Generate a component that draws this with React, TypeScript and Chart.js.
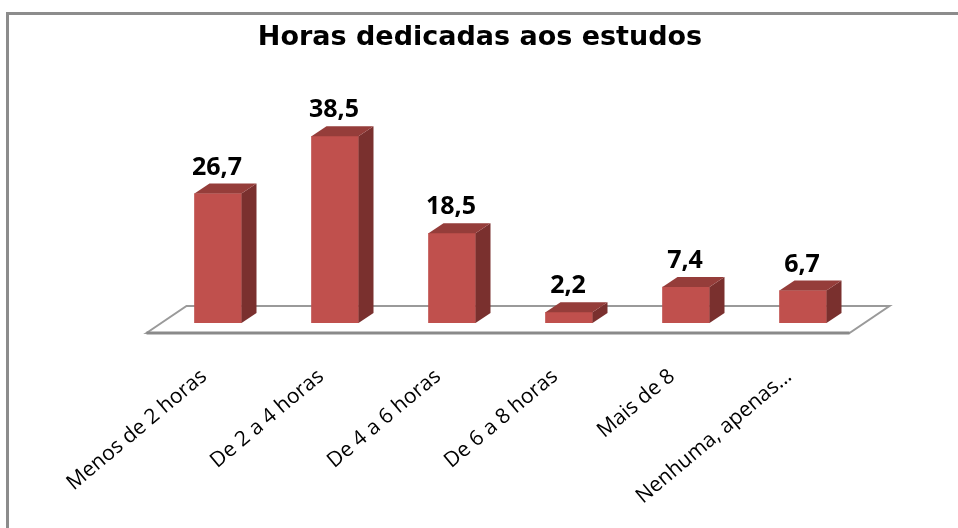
import React, { useEffect, useRef } from 'react';
import { Chart, registerables } from 'chart.js';

Chart.register(...registerables);

const categories = [
  'Menos de 2 horas',
  'De 2 a 4 horas',
  'De 4 a 6 horas',
  'De 6 a 8 horas',
  'Mais de 8',
  'Nenhuma, apenas...',
];
const values = [26.7, 38.5, 18.5, 2.2, 7.4, 6.7];
const titleText = 'Horas dedicadas aos estudos';

const FRONT = '#C0504D';
const TOP = '#953D3A';
const SIDE = '#7A302E';
const DX = 15;
const DY = 10;

const threeD = {
  id: 'threeD',
  beforeDraw(chart: any) {
    const { ctx, width, height } = chart;
    ctx.save();
    ctx.fillStyle = '#ffffff';
    ctx.fillRect(0, 0, width, height);
    ctx.strokeStyle = '#8c8c8c';
    ctx.lineWidth = 3;
    ctx.beginPath();
    ctx.moveTo(7.5, height);
    ctx.lineTo(7.5, 13.5);
    ctx.lineTo(width, 13.5);
    ctx.stroke();
    ctx.restore();
  },
  beforeDatasetsDraw(chart: any) {
    const { ctx, chartArea } = chart;
    const { left, right, bottom } = chartArea;
    const fy = bottom + 10;
    const by = bottom - 17;
    const fl = left - 13;
    const fr = right - 12;
    ctx.save();
    ctx.fillStyle = '#ffffff';
    ctx.strokeStyle = '#9a9a9a';
    ctx.lineWidth = 2;
    ctx.beginPath();
    ctx.moveTo(fl, fy);
    ctx.lineTo(fl + 40, by);
    ctx.lineTo(fr + 40, by);
    ctx.lineTo(fr, fy);
    ctx.closePath();
    ctx.fill();
    ctx.stroke();
    ctx.strokeStyle = '#8a8a8a';
    ctx.lineWidth = 3;
    ctx.beginPath();
    ctx.moveTo(fl, fy);
    ctx.lineTo(fr, fy);
    ctx.stroke();
    ctx.restore();
  },
  afterDatasetsDraw(chart: any) {
    const { ctx } = chart;
    const meta = chart.getDatasetMeta(0);
    ctx.save();
    meta.data.forEach((bar: any, i: number) => {
      const { x, y, base, width } = bar.getProps(['x', 'y', 'base', 'width'], true);
      const l = x - width / 2;
      const r = x + width / 2;
      ctx.fillStyle = SIDE;
      ctx.beginPath();
      ctx.moveTo(r, y);
      ctx.lineTo(r + DX, y - DY);
      ctx.lineTo(r + DX, base - DY);
      ctx.lineTo(r, base);
      ctx.closePath();
      ctx.fill();
      ctx.fillStyle = TOP;
      ctx.beginPath();
      ctx.moveTo(l, y);
      ctx.lineTo(l + DX, y - DY);
      ctx.lineTo(r + DX, y - DY);
      ctx.lineTo(r, y);
      ctx.closePath();
      ctx.fill();
      ctx.fillStyle = '#000000';
      ctx.font = 'bold 25px "Open Sans"';
      ctx.textAlign = 'center';
      ctx.textBaseline = 'middle';
      ctx.fillText(values[i].toFixed(1).replace('.', ','), x - 1, y - 26);
    });
    ctx.restore();
  },
  afterDraw(chart: any) {
    const { ctx } = chart;
    ctx.save();
    ctx.fillStyle = '#000000';
    ctx.font = 'bold 27px "DejaVu Sans"';
    ctx.textAlign = 'center';
    ctx.textBaseline = 'middle';
    ctx.fillText(titleText, 480, 38);
    ctx.restore();
  },
};

export default function App() {
  const ref = useRef<HTMLCanvasElement>(null);
  useEffect(() => {
    document.body.style.margin = '0';
    const chart = new Chart(ref.current!, {
      type: 'bar',
      data: {
        labels: categories,
        datasets: [
          {
            data: values,
            backgroundColor: FRONT,
            borderWidth: 0,
            barThickness: 47,
          },
        ],
      },
      options: {
        responsive: false,
        animation: false,
        layout: { padding: { left: 159.5, right: 96.5, top: 104.75, bottom: 0 } },
        plugins: {
          legend: { display: false },
          tooltip: { enabled: false },
          title: { display: false },
        },
        scales: {
          x: {
            grid: { display: false },
            border: { display: false },
            ticks: {
              color: '#000000',
              font: { family: '"Open Sans"', size: 21 },
              minRotation: 40,
              maxRotation: 40,
              padding: 33,
              labelOffset: -14,
              autoSkip: false,
            },
            afterFit: (scale: any) => {
              scale.height = 205;
            },
          },
          y: {
            display: false,
            min: 0,
            max: 45,
          },
        },
      },
      plugins: [threeD],
    });
    return () => chart.destroy();
  }, []);
  return (
    <div style={{ position: 'fixed', left: 0, top: 0, width: 958, height: 528 }}>
      <canvas ref={ref} width={958} height={528} />
    </div>
  );
}
